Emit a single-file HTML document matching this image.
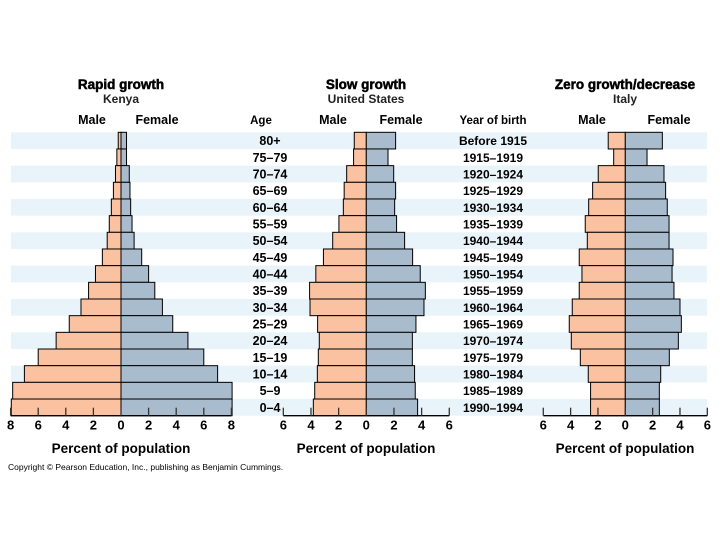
<!DOCTYPE html>
<html><head><meta charset="utf-8"><style>
html,body{margin:0;padding:0;background:#fff;}
svg{display:block;font-family:"Liberation Sans",Arial,sans-serif;}
.b{font-weight:bold;}
.h{font-weight:bold;stroke:#000;stroke-width:0.5;}
</style></head><body>
<svg id="c" width="720" height="540" viewBox="0 0 720 540" xmlns="http://www.w3.org/2000/svg">
<g id="stripes"></g>
<g id="charts"></g>
<g id="texts">
<text x="121" y="89" text-anchor="middle" class="h" font-size="13.5">Rapid growth</text>
<text x="121" y="103" text-anchor="middle" class="b" font-size="12" fill="#222">Kenya</text>
<text x="366" y="89" text-anchor="middle" class="h" font-size="13.5">Slow growth</text>
<text x="366" y="103" text-anchor="middle" class="b" font-size="12" fill="#222">United States</text>
<text x="625" y="89" text-anchor="middle" class="h" font-size="13.5">Zero growth/decrease</text>
<text x="625" y="103" text-anchor="middle" class="b" font-size="12" fill="#222">Italy</text>
<text x="92" y="124" text-anchor="middle" class="b" font-size="12.5">Male</text>
<text x="157" y="124" text-anchor="middle" class="b" font-size="12.5">Female</text>
<text x="333" y="124" text-anchor="middle" class="b" font-size="12.5">Male</text>
<text x="401" y="124" text-anchor="middle" class="b" font-size="12.5">Female</text>
<text x="592" y="124" text-anchor="middle" class="b" font-size="12.5">Male</text>
<text x="669" y="124" text-anchor="middle" class="b" font-size="12.5">Female</text>
<text x="261" y="124" text-anchor="middle" class="b" font-size="11.5">Age</text>
<text x="493" y="124" text-anchor="middle" class="b" font-size="11.5">Year of birth</text>
<text x="121" y="453" text-anchor="middle" class="b" font-size="13.5">Percent of population</text>
<text x="366" y="453" text-anchor="middle" class="b" font-size="13.5">Percent of population</text>
<text x="625" y="453" text-anchor="middle" class="b" font-size="13.5">Percent of population</text>
<text x="8" y="470" font-size="8.5">Copyright © Pearson Education, Inc., publishing as Benjamin Cummings.</text>
</g>
</svg>
<script>
const ages=["80+","75–79","70–74","65–69","60–64","55–59","50–54","45–49","40–44","35–39","30–34","25–29","20–24","15–19","10–14","5–9","0–4"];
const years=["Before 1915","1915–1919","1920–1924","1925–1929","1930–1934","1935–1939","1940–1944","1945–1949","1950–1954","1955–1959","1960–1964","1965–1969","1970–1974","1975–1979","1980–1984","1985–1989","1990–1994"];
const kenyaMale=[0.2,0.3,0.4,0.55,0.7,0.85,1.0,1.35,1.85,2.35,2.9,3.75,4.7,6.0,7.0,7.85,7.95];
const kenyaFemale=[0.4,0.4,0.6,0.65,0.7,0.8,0.95,1.5,2.0,2.45,3.0,3.75,4.85,6.0,7.0,8.05,8.05];
const usMale=[0.87,0.92,1.42,1.6,1.66,1.98,2.43,3.1,3.65,4.1,4.07,3.52,3.4,3.47,3.54,3.73,3.83];
const usFemale=[2.12,1.57,1.98,2.12,2.05,2.19,2.77,3.35,3.9,4.27,4.17,3.59,3.33,3.33,3.49,3.54,3.71];
const italyMale=[1.25,0.85,1.98,2.39,2.68,2.93,2.78,3.37,3.17,3.37,3.88,4.1,3.95,3.29,2.71,2.54,2.54];
const italyFemale=[2.71,1.59,2.83,2.95,3.07,3.2,3.2,3.49,3.42,3.56,4.0,4.1,3.88,3.22,2.59,2.49,2.49];
const kenyaTicks=[8,6,4,2,0,2,4,6,8];
const sideTicks=[6,4,2,0,2,4,6];

const NS="http://www.w3.org/2000/svg";
const top0=132.3, rowH=16.67, axisY=top0+rowH*17;
function el(tag,attrs,parent){const e=document.createElementNS(NS,tag);for(const k in attrs)e.setAttribute(k,attrs[k]);parent.appendChild(e);return e;}
const yRow=i=>top0+i*rowH;

const sg=document.getElementById('stripes');
for(let i=0;i<ages.length;i+=2){
  const r=el('rect',{x:11,y:yRow(i),width:696,height:rowH,fill:'#e9f3fa'},sg);
  
  
}
const tg=document.getElementById('texts');
ages.forEach((a,i)=>{
  const t=el('text',{x:270,y:yRow(i)+rowH/2+4.5,'text-anchor':'middle','font-size':'12.5','font-weight':'bold'},tg);
  t.textContent=a;
  
  
});
years.forEach((a,i)=>{
  const t=el('text',{x:493,y:yRow(i)+rowH/2+4.5,'text-anchor':'middle','font-size':'12','font-weight':'bold'},tg);
  t.textContent=a;
  
  
});

function pyramid(name,zero,scale,male,female,ticks){
  const g=el('g',{},document.getElementById('charts'));
  
  
  const xs=v=>zero+v*scale;
  male.forEach((v,i)=>{
    const r=el('rect',{x:xs(-v),y:yRow(i),width:v*scale,height:rowH,fill:'#fbc2a2',stroke:'#000','stroke-width':1},g);
    
    
  });
  female.forEach((v,i)=>{
    const r=el('rect',{x:zero,y:yRow(i),width:v*scale,height:rowH,fill:'#a9bccd',stroke:'#000','stroke-width':1},g);
    
    
  });
  const half=(ticks.length-1)/2;
  const ln=el('line',{x1:xs(-ticks[0]),x2:xs(ticks[0]),y1:axisY,y2:axisY,stroke:'#000','stroke-width':1.3},g);
  
  
  ticks.forEach((t,i)=>{
    const v=i<half?-t:t;
    const tk=el('line',{x1:xs(v),x2:xs(v),y1:axisY-8,y2:axisY,stroke:'#333','stroke-width':1.3},g);
    
    
    const tx=el('text',{x:xs(v),y:axisY+14,'text-anchor':'middle','font-size':'13','font-weight':'bold'},g);
    tx.textContent=t;
    
    
  });
}
pyramid('kenya',121,13.8,kenyaMale,kenyaFemale,kenyaTicks);
pyramid('us',366.3,13.83,usMale,usFemale,sideTicks);
pyramid('italy',625.3,13.67,italyMale,italyFemale,sideTicks);
</script>
</body></html>
